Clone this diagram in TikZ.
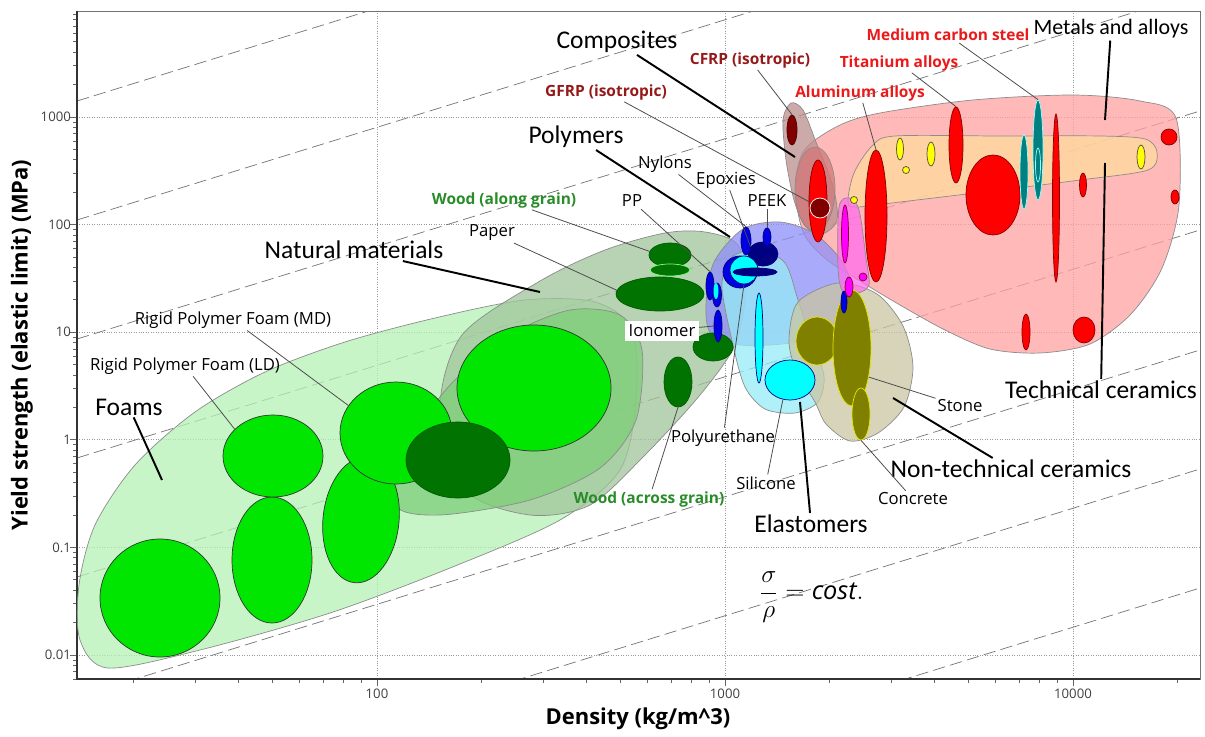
\documentclass[tikz,border=0pt]{standalone}
\usepackage{amsmath,amssymb}
\usepackage{fontspec}
\setmainfont{Open Sans}
\newfontfamily\groupfont{Carlito}
\usepackage{tikz}
\usetikzlibrary{shapes, positioning, calc}
\newlength{\Px}
\setlength\Px{0.2mm}

% envelope colours (drawn with fill opacity)
\definecolor{foamenv}{RGB}{180,242,180}
\definecolor{mdenv}{RGB}{125,205,120}
\definecolor{natenv}{RGB}{160,196,155}
\definecolor{polyenv}{RGB}{142,142,248}
\definecolor{elastenv}{RGB}{150,235,245}
\definecolor{nontechenv}{RGB}{202,198,162}
\definecolor{metalenv}{RGB}{255,162,162}
\definecolor{techenv}{RGB}{255,219,158}
\definecolor{compenv}{RGB}{188,142,142}
\definecolor{gfrpenv}{RGB}{210,120,120}
\definecolor{magenv}{RGB}{255,110,235}
% blob colours
\definecolor{foamgreen}{RGB}{0,230,0}
\definecolor{woodgreen}{RGB}{0,115,0}
\definecolor{polyblue}{RGB}{0,0,225}
\definecolor{navyblue}{RGB}{0,0,128}
\definecolor{elastcyan}{RGB}{0,255,255}
\definecolor{steelteal}{RGB}{0,128,128}
\definecolor{stoneolive}{RGB}{128,128,0}
\definecolor{ceramyellow}{RGB}{255,255,0}
\definecolor{magpink}{RGB}{255,0,255}
\definecolor{compred}{RGB}{128,0,0}
% label colours
\definecolor{woodtext}{RGB}{40,140,40}
\definecolor{comptext}{RGB}{150,25,25}
\definecolor{metaltext}{RGB}{235,25,25}

\begin{document}
\begin{tikzpicture}[
    x = 0.2mm, y = -0.2mm,
    env/.style = {draw = black!45, line width = 0.4pt, fill opacity = 0.75},
    dims/.style 2 args = {minimum width = #1*\Px, minimum height = #2*\Px},
    blob/.style = {ellipse, inner sep = 0pt, line width = 0.4pt},
    foam/.style = {blob, fill = foamgreen, draw = black!80},
    wood/.style = {blob, fill = woodgreen, draw = woodgreen!80!black},
    poly/.style = {blob, fill = polyblue, draw = navyblue},
    epox/.style = {blob, fill = navyblue, draw = navyblue},
    elast/.style = {blob, fill = elastcyan, draw = navyblue},
    metal/.style = {blob, fill = red, draw = red!50!black},
    steel/.style = {blob, fill = steelteal, draw = elastcyan!40},
    ceram/.style = {blob, fill = ceramyellow, draw = black!70},
    stone/.style = {blob, fill = stoneolive, draw = ceramyellow!80!stoneolive},
    mag/.style = {blob, fill = magpink, draw = purple!70!black},
    comp/.style = {blob, fill = compred, draw = compred!60!black},
    grp_label/.style = {font = \groupfont\fontsize{14.5}{16}\selectfont, inner sep = 1pt},
    mat_label/.style = {font = \fontsize{9.5}{11}\selectfont, inner sep = 1pt},
    bold_label/.style = {font = \bfseries\fontsize{8.8}{10}\selectfont, inner sep = 1pt},
    lead/.style = {draw = black!70, line width = 0.45pt},
    glead/.style = {draw = black, line width = 1.1pt},
    grid_line/.style = {draw = black!40, densely dotted, line width = 0.4pt},
    cost_line/.style = {draw = black!55, dash pattern = on 7pt off 3pt, line width = 0.4pt},
    tick_mark/.style = {draw = black!60, line width = 0.4pt},
    tick_label/.style = {font = \fontsize{7.5}{9}\selectfont, text = black!75, inner sep = 1pt},
    ax_title/.style = {font = \bfseries\fontsize{12.5}{14}\selectfont, inner sep = 1pt},
    ]
    \useasboundingbox (0,0) rectangle (1205,737);

    % grid and lines of constant sigma/rho
    \foreach \gx in {377,725,1073} \draw [grid_line] (\gx,11) -- (\gx,679);
    \foreach \gy in {117,224.6,332.2,439.8,547.4,655} \draw [grid_line] (77,\gy) -- (1200,\gy);
    \begin{scope}
        \clip (77,11) rectangle (1200,679);
        \foreach \b in {-246,-127,-8,111,230,350,469,588}
            \draw [cost_line] (77,\b+347) -- (1200,\b);
    \end{scope}

    % axes and ticks
    \begin{scope}
        \clip (50,11) rectangle (77,679.5);
        \foreach \k in {-3,...,3} \foreach \m in {1,...,9} {
            \pgfmathsetmacro\yy{117+(3-\k-log10(\m))*107.6}
            \pgfmathsetmacro\tl{\m==1 ? 7 : 4}
            \draw [tick_mark] (77,\yy) -- ++(-\tl,0);
        }
    \end{scope}
    \begin{scope}
        \clip (76.5,679) rectangle (1200.5,700);
        \foreach \k in {1,...,4} \foreach \m in {1,...,9} {
            \pgfmathsetmacro\xx{377+(\k-2+log10(\m))*348}
            \pgfmathsetmacro\tl{\m==1 ? 7 : 4}
            \draw [tick_mark] (\xx,679) -- ++(0,\tl);
        }
    \end{scope}
    \draw [draw = black!55, line width = 0.5pt] (77,11) rectangle (1200,679);
    \draw [draw = black!80, line width = 0.8pt] (77,11) -- (77,679) -- (1200,679);
    \foreach \v/\gy [count = \i] in {1000/117,100/224.6,10/332.2,1/439.8,0.1/547.4,0.01/655}
        \node [tick_label, anchor = east] (ytick\i) at (73,\gy) {\v};
    \foreach \v/\gx [count = \i] in {100/377,1000/725,10000/1073}
        \node [tick_label, anchor = north] (xtick\i) at (\gx,687) {\v};
    \node [ax_title] (x_title) at (638,719) {Density (kg/m\textasciicircum 3)};
    \node [ax_title, rotate = 90] (y_title) at (22,345) {Yield strength (elastic limit) (MPa)};

    % envelopes of the material families
    \filldraw [env, fill = foamenv] plot [smooth cycle] coordinates {(80,640) (79,585) (95,525) (135,465) (195,412) (265,372) (345,342) (435,318) (525,300) (595,302) (632,330) (636,400) (620,470) (560,520) (450,568) (330,613) (200,650) (108,668)};
    \filldraw [env, fill = natenv] plot [smooth cycle] coordinates {(440,410) (462,335) (540,281) (605,250) (665,233) (705,232) (738,245) (746,290) (735,345) (700,395) (645,455) (590,505) (530,515) (465,490)};
    \filldraw [env, fill = mdenv] plot [smooth cycle] coordinates {(395,505) (405,450) (450,385) (510,335) (570,310) (620,315) (642,350) (636,420) (600,468) (530,500) (440,515)};
    \filldraw [env, fill = metalenv] plot [smooth cycle] coordinates {(796,195) (803,152) (838,126) (880,113) (973,100) (1073,95) (1140,101) (1176,118) (1179,205) (1162,268) (1131,314) (1090,344) (1040,353) (990,349) (945,330) (900,305) (860,281) (826,259) (804,234)};
    \filldraw [env, fill = techenv] plot [smooth cycle] coordinates {(848,201) (854,173) (872,146) (895,136) (1000,136) (1100,136) (1145,139) (1157,152) (1148,170) (1080,180) (1000,190) (900,202) (856,207)};
    \filldraw [env, fill = compenv] plot [smooth cycle] coordinates {(783,120) (791,103) (803,110) (816,142) (833,186) (837,220) (822,234) (805,226) (794,200) (786,160)};
    \filldraw [env, fill = gfrpenv] (815,189) ellipse [x radius = 20, y radius = 42];
    \filldraw [env, fill = polyenv] plot [smooth cycle] coordinates {(706,305) (714,262) (743,229) (780,222) (815,234) (843,263) (853,298) (836,330) (790,343) (740,345) (711,334)};
    \filldraw [env, fill = elastenv] plot [smooth cycle] coordinates {(722,287) (731,258) (758,249) (785,263) (798,300) (811,340) (824,376) (818,402) (795,413) (765,409) (745,387) (733,345)};
    \filldraw [env, fill = nontechenv] plot [smooth cycle] coordinates {(789,340) (798,302) (838,283) (877,294) (903,326) (913,367) (904,407) (878,433) (850,441) (826,424) (815,402) (796,370)};
    \filldraw [env, fill = magenv] plot [smooth cycle] coordinates {(839,207) (849,198) (859,210) (866,258) (869,285) (858,293) (843,292) (838,268)};

    % foams
    \node [foam, dims={120}{118}] (foam_a) at (160,598) {};
    \node [foam, dims={80}{126}] (foam_b) at (272,560) {};
    \node [foam, dims={100}{82}] (foam_ld) at (273,456) {};
    \node [foam, dims={76}{126}, rotate = -6] (foam_c) at (361,520) {};
    \node [foam, dims={112}{102}] (foam_md) at (396,433) {};
    \node [foam, dims={154}{126}] (foam_big) at (534,388) {};
    \node [wood, dims={104}{76}] (wood_dark) at (458,460) {};

    % natural materials
    \node [wood, dims={42}{24}] (wood_along) at (670,255) {};
    \node [wood, dims={40}{12}, draw = green!50] (wood_along2) at (670,270) {};
    \node [wood, dims={88}{34}] (paper) at (660,294) {};
    \node [wood, dims={40}{28}] (wood_iono) at (713,347) {};
    \node [wood, dims={28}{50}] (wood_across) at (678,382) {};

    % polymers and elastomers
    \node [poly, dims={8}{28}] (pp_a) at (710,286) {};
    \node [poly, dims={9}{24}] (pp_b) at (717,295) {};
    \node [elast, dims={5}{16}, draw = none] (pp_c) at (716,291) {};
    \node [poly, dims={8}{32}] (ionomer) at (718,326) {};
    \node [epox, dims={30}{24}] (epoxy) at (763,254) {};
    \node [poly, dims={10}{28}] (nylon) at (746,241) {};
    \node [poly, dims={8}{18}] (peek) at (767,237) {};
    \node [poly, dims={34}{32}] (pu_ring) at (740,272) {};
    \node [elast, dims={28}{28}] (pu_circ) at (744,270) {};
    \node [epox, dims={44}{8}] (navy_bar) at (755,272) {};
    \node [elast, dims={8}{90}] (silicone_bar) at (759,338) {};
    \node [elast, dims={50}{40}] (silicone) at (790,380) {};

    % non-technical ceramics
    \node [stone, dims={42}{48}] (stone_a) at (817,341) {};
    \node [stone, dims={38}{116}] (stone) at (852,348) {};
    \node [stone, dims={18}{52}] (concrete) at (861,414) {};
    \node [poly, dims={6}{22}] (poly_small) at (844,302) {};

    % technical ceramics
    \node [ceram, dims={7}{22}] (ceram_a) at (900,149) {};
    \node [ceram, dims={8}{24}] (ceram_b) at (931,154) {};
    \node [ceram, dims={7}{7}] (ceram_c) at (906,170) {};
    \node [ceram, dims={8}{24}] (ceram_d) at (1141,157) {};
    \node [ceram, dims={7}{7}] (ceram_e) at (854,200) {};
    \node [mag, dims={7}{58}] (mag_a) at (845,234) {};
    \node [mag, dims={8}{8}] (mag_b) at (863,277) {};
    \node [mag, dims={8}{20}] (mag_c) at (849,287) {};

    % metals and alloys
    \node [metal, dims={22}{132}] (al_alloy) at (876,216) {};
    \node [metal, dims={14}{76}] (ti_alloy) at (956,145) {};
    \node [metal, dims={54}{80}] (metal_big) at (993,195) {};
    \node [metal, dims={7}{168}] (metal_thin) at (1056,198) {};
    \node [metal, dims={7}{24}] (metal_s) at (1083,185) {};
    \node [metal, dims={16}{16}] (metal_r1) at (1169,137) {};
    \node [metal, dims={8}{14}] (metal_r2) at (1175,197) {};
    \node [metal, dims={8}{36}] (metal_b1) at (1026,332) {};
    \node [metal, dims={22}{26}] (metal_b2) at (1084,330) {};
    \node [steel, dims={8}{74}] (steel_a) at (1024,172) {};
    \node [steel, dims={10}{100}] (steel_b) at (1038,150) {};
    \node [blob, draw = elastcyan!40, dims={5}{34}] (steel_c) at (1038,165) {};

    % composites
    \node [comp, dims={10}{30}] (cfrp) at (792,130) {};
    \node [metal, dims={18}{82}] (gfrp) at (818,201) {};
    \node [comp, dims={20}{20}, draw = white] (gfrp_dot) at (820,208) {};

    % family labels
    \node [grp_label] (composites) at (617,42) {Composites};
    \node [grp_label] (polymers) at (576,137) {Polymers};
    \node [grp_label] (natural) at (354,250) {Natural materials};
    \node [grp_label] (foams) at (129,407) {Foams};
    \node [grp_label] (elastomers) at (811,524) {Elastomers};
    \node [grp_label] (nontech) at (1011,469) {Non-technical ceramics};
    \node [grp_label] (technical) at (1101,390) {Technical ceramics};
    \node [grp_label, font = \groupfont\fontsize{12.5}{14}\selectfont] (metals) at (1111,29) {Metals and alloys};

    \coordinate (c_comp) at (795,157);
    \coordinate (c_poly) at (730,237);
    \coordinate (c_nat) at (540,292);
    \coordinate (c_foam) at (162,480);
    \coordinate (c_elast) at (800,402);
    \coordinate (c_nontech) at (893,398);
    \coordinate (c_tech) at (1105,163);
    \coordinate (c_metal) at (1105,120);
    \draw [glead] (composites) -- (c_comp);
    \draw [glead] (polymers) -- (c_poly);
    \draw [glead] (natural) -- (c_nat);
    \draw [glead] (foams) -- (c_foam);
    \draw [glead] (elastomers) -- (c_elast);
    \draw [glead] (nontech) -- (c_nontech);
    \draw [glead] (technical) -- (c_tech);
    \draw [glead] (metals) -- (c_metal);

    % material labels
    \node [mat_label] (lbl_md) at (233,320) {Rigid Polymer Foam (MD)};
    \node [mat_label] (lbl_ld) at (185,366) {Rigid Polymer Foam (LD)};
    \node [mat_label] (lbl_paper) at (492,233) {Paper};
    \node [mat_label] (lbl_pp) at (632,201) {PP};
    \node [mat_label] (lbl_nylons) at (665,164) {Nylons};
    \node [mat_label] (lbl_epoxies) at (726,180) {Epoxies};
    \node [mat_label] (lbl_peek) at (767,201) {PEEK};
    \node [mat_label, fill = white, inner sep = 2pt] (lbl_ionomer) at (662,331) {Ionomer};
    \node [mat_label] (lbl_pu) at (723,438) {Polyurethane};
    \node [mat_label] (lbl_silicone) at (766,483) {Silicone};
    \node [mat_label] (lbl_stone) at (960,406) {Stone};
    \node [mat_label] (lbl_concrete) at (913,499) {Concrete};
    \node [bold_label, text = woodtext] (lbl_wood_along) at (504,200) {Wood (along grain)};
    \node [bold_label, text = woodtext] (lbl_wood_across) at (649,499) {Wood (across grain)};
    \node [bold_label, text = comptext] (lbl_gfrp) at (606,92) {GFRP (isotropic)};
    \node [bold_label, text = comptext] (lbl_cfrp) at (750,60) {CFRP (isotropic)};
    \node [bold_label, text = metaltext] (lbl_al) at (860,93) {Aluminum alloys};
    \node [bold_label, text = metaltext] (lbl_ti) at (899,63) {Titanium alloys};
    \node [bold_label, text = metaltext] (lbl_steel) at (948,35) {Medium carbon steel};

    \draw [lead] (lbl_md) -- (foam_md.150);
    \draw [lead] (lbl_ld) -- (foam_ld.145);
    \draw [lead] (lbl_paper) -- (paper.175);
    \draw [lead] (lbl_wood_along) -- (wood_along.170);
    \draw [lead] (lbl_pp) -- (pp_a.north);
    \draw [lead] (lbl_nylons) -- (nylon.north);
    \draw [lead] (lbl_epoxies) -- (epoxy.150);
    \draw [lead] (lbl_peek) -- (peek.north);
    \draw [lead] (lbl_ionomer) -- (ionomer.west);
    \draw [lead] (lbl_pu) -- (pu_circ.south);
    \draw [lead] (lbl_silicone) -- (silicone.250);
    \draw [lead] (lbl_wood_across) -- (wood_across.south);
    \draw [lead] (lbl_stone) -- (stone.-60);
    \draw [lead] (lbl_concrete) -- (concrete.south);
    \draw [lead] (lbl_gfrp) -- (gfrp_dot.150);
    \draw [lead] (lbl_cfrp) -- (cfrp.north);
    \draw [lead] (lbl_al) -- (al_alloy.north);
    \draw [lead] (lbl_ti) -- (ti_alloy.north);
    \draw [lead] (lbl_steel) -- (steel_b.north);

    % index
    \node [anchor = west, font = \Large] (ratio) at (753,597) {$\dfrac{\sigma}{\rho} = \mathit{cost.}$};
\end{tikzpicture}
\end{document}
